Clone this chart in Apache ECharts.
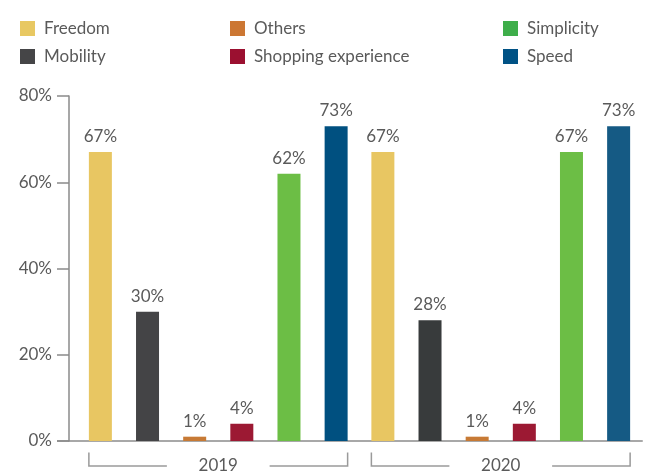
<!DOCTYPE html>
<html>
<head>
<meta charset="utf-8">
<script src="https://cdn.jsdelivr.net/npm/echarts@6/dist/echarts.min.js"></script>
<style>
html,body{margin:0;padding:0;background:#fff;}
#c{width:646px;height:474px;}
</style>
</head>
<body>
<div id="c"></div>
<script>
const categories = ['2019', '2020'];
const seriesNames = ['Freedom', 'Mobility', 'Others', 'Shopping experience', 'Simplicity', 'Speed'];
const freedom = [67, 67];
const mobility = [30, 28];
const others = [1, 1];
const shopping = [4, 4];
const simplicity = [62, 67];
const speed = [73, 73];
const yMin = 0, yMax = 80, yStep = 20;

const barColors = [
  ['#E8C662', '#E8C662'],
  ['#444446', '#383B3C'],
  ['#C77A35', '#C77A35'],
  ['#9C1933', '#9C1933'],
  ['#6CBE45', '#6CBE45'],
  ['#005080', '#155A84']
];
const legendColors = ['#E8C862', '#454547', '#CC7733', '#9B1030', '#3EAE4A', '#005285'];
const values = [freedom, mobility, others, shopping, simplicity, speed];

const FONT = 'Lato';
const TXT = '#5a5a5a';
const FS = 17;
const barW = 23, gapRatio = 1.05;

const chart = echarts.init(document.getElementById('c'), null, {renderer: 'canvas'});

const barSeries = seriesNames.map((name, i) => ({
  name: name,
  type: 'bar',
  barWidth: barW,
  barGap: (gapRatio * 100) + '%',
  data: values[i].map((v, j) => ({value: v, itemStyle: {color: barColors[i][j]}})),
  itemStyle: {color: legendColors[i]},
  label: {
    show: true, position: 'top', distance: 7,
    formatter: '{c}%', color: TXT, fontFamily: FONT, fontSize: FS
  },
  z: 1
}));

const bracket = {
  type: 'custom',
  silent: true,
  clip: false,
  data: categories.map((c, i) => [i, 0]),
  encode: {x: 0, y: 1},
  renderItem: function (params, api) {
    const p = api.coord([api.value(0), 0]);
    const x = p[0], y = p[1];
    const half = (6 * barW + 5 * barW * gapRatio) / 2;
    const seg = 78;
    const style = {stroke: '#9a9a9a', lineWidth: 1.5, fill: null};
    return {
      type: 'group',
      children: [
        {type: 'polyline', shape: {points: [[x - half, y + 11.5], [x - half, y + 25], [x - half + seg, y + 25]]}, style: style},
        {type: 'polyline', shape: {points: [[x + half - seg, y + 25], [x + half, y + 25], [x + half, y + 11.5]]}, style: style}
      ]
    };
  }
};

function legendBlock(names, left) {
  return {
    orient: 'vertical', left: left, top: 17.5, padding: 0,
    icon: 'rect', itemWidth: 15, itemHeight: 15, itemGap: 6,
    selectedMode: false,
    data: names.map(n => ({name: n, itemStyle: {color: legendColors[seriesNames.indexOf(n)]}})),
    textStyle: {color: TXT, fontFamily: FONT, fontSize: FS, lineHeight: 15, padding: [7, 0, 0, 4]}
  };
}

chart.setOption({
  animation: false,
  textStyle: {fontFamily: FONT},
  legend: [
    legendBlock(['Freedom', 'Mobility'], 20),
    legendBlock(['Others', 'Shopping experience'], 230),
    legendBlock(['Simplicity', 'Speed'], 503)
  ],
  grid: {left: 77, right: 4, top: 96, bottom: 32.3, containLabel: false},
  xAxis: {
    type: 'category',
    data: categories,
    axisTick: {show: false},
    axisLine: {lineStyle: {color: '#a8a8a8', width: 2}},
    axisLabel: {color: TXT, fontFamily: FONT, fontSize: FS, margin: 16}
  },
  yAxis: {
    type: 'value',
    min: yMin, max: yMax, interval: yStep,
    offset: 8,
    axisLine: {show: true, lineStyle: {color: '#8a8a8a', width: 1.5}},
    axisTick: {show: true, length: 12, lineStyle: {color: '#8a8a8a', width: 1.5}},
    splitLine: {show: false},
    axisLabel: {color: TXT, fontFamily: FONT, fontSize: FS, margin: 17, formatter: '{value}%'}
  },
  series: barSeries.concat([bracket])
});

// extend the baseline between the offset y axis and the grid
const y0 = chart.convertToPixel({yAxisIndex: 0}, 0);
chart.setOption({
  graphic: [{
    type: 'line', silent: true,
    shape: {x1: 57, y1: y0, x2: 77, y2: y0},
    style: {stroke: '#a8a8a8', lineWidth: 2}
  }]
});
</script>
</body>
</html>
